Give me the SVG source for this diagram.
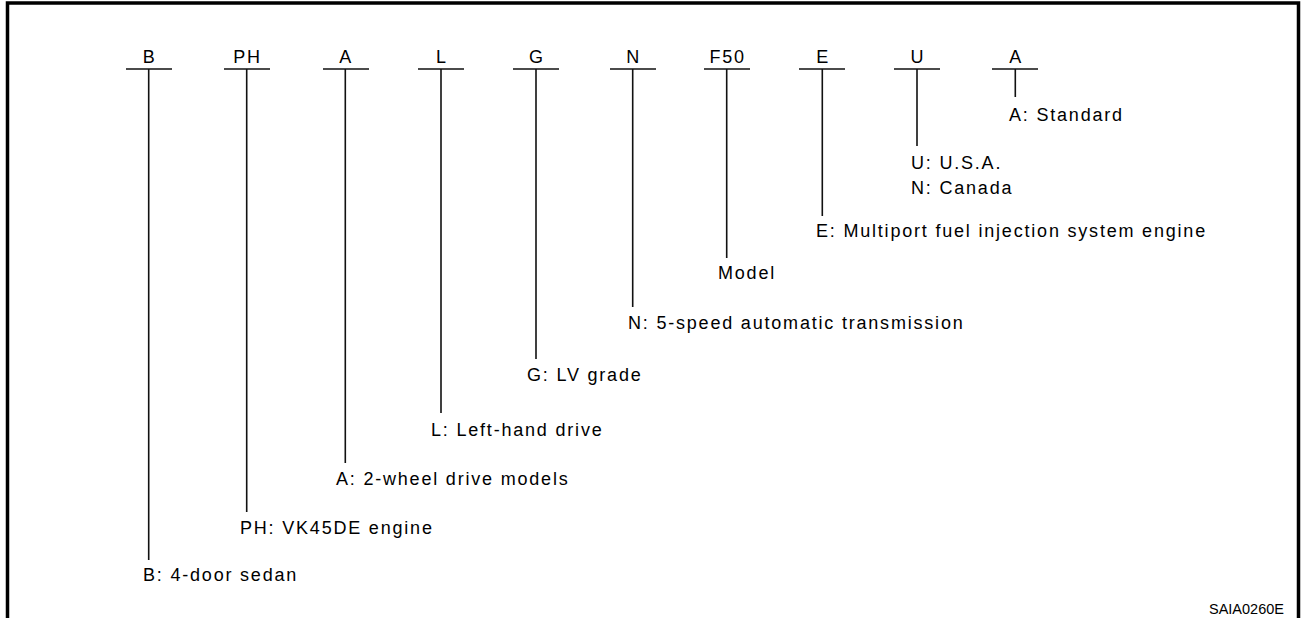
<svg xmlns="http://www.w3.org/2000/svg" width="1303" height="618" viewBox="0 0 1303 618">
<style>
.frame{fill:none;stroke:#000;stroke-width:3.5}
.ln{stroke:#111;stroke-width:1.6;fill:none}
.code{font-family:"Liberation Sans",Arial,sans-serif;font-size:18px;letter-spacing:1.8px;fill:#000;text-anchor:middle}
.lbl{font-family:"Liberation Sans",Arial,sans-serif;font-size:18px;letter-spacing:1.8px;fill:#000}
.ref{font-family:"Liberation Sans",Arial,sans-serif;font-size:14.5px;fill:#000}
</style>
<rect width="1303" height="618" fill="#fff"/>
<path class="frame" d="M7.5,618 V3 H1298.5 V618"/>
<g id="connectors">
<path class="ln" d="M126,69 H172 M148.7,69 V560"/>
<path class="ln" d="M224,69 H270 M246.7,69 V512"/>
<path class="ln" d="M323,69 H369 M345.3,69 V463"/>
<path class="ln" d="M418,69 H464 M441,69 V413"/>
<path class="ln" d="M513,69 H559 M536,69 V359"/>
<path class="ln" d="M610,69 H656 M632.7,69 V307"/>
<path class="ln" d="M704,69 H750 M726.7,69 V258"/>
<path class="ln" d="M799,69 H845 M822.3,69 V216"/>
<path class="ln" d="M894,69 H940 M917,69 V146"/>
<path class="ln" d="M992,69 H1038 M1015.3,69 V97"/>
</g>
<g id="node-B"><text class="code" x="149.6" y="63">B</text><text class="lbl" x="143" y="581">B: 4-door sedan</text></g>
<g id="node-PH"><text class="code" x="247.6" y="63">PH</text><text class="lbl" x="240" y="534">PH: VK45DE engine</text></g>
<g id="node-A1"><text class="code" x="346.2" y="63">A</text><text class="lbl" x="336" y="485">A: 2-wheel drive models</text></g>
<g id="node-L"><text class="code" x="441.9" y="63">L</text><text class="lbl" x="431" y="436">L: Left-hand drive</text></g>
<g id="node-G"><text class="code" x="536.9" y="63">G</text><text class="lbl" x="527" y="381">G: LV grade</text></g>
<g id="node-N"><text class="code" x="633.6" y="63">N</text><text class="lbl" x="628" y="329">N: 5-speed automatic transmission</text></g>
<g id="node-F50"><text class="code" x="727.6" y="63">F50</text><text class="lbl" x="718" y="279">Model</text></g>
<g id="node-E"><text class="code" x="823.2" y="63">E</text><text class="lbl" x="816" y="237">E: Multiport fuel injection system engine</text></g>
<g id="node-U"><text class="code" x="917.9" y="63">U</text><text class="lbl" x="911" y="169">U: U.S.A.</text><text class="lbl" x="911" y="194">N: Canada</text></g>
<g id="node-A2"><text class="code" x="1016.2" y="63">A</text><text class="lbl" x="1009" y="121">A: Standard</text></g>
<text class="ref" x="1209" y="614">SAIA0260E</text>
</svg>
